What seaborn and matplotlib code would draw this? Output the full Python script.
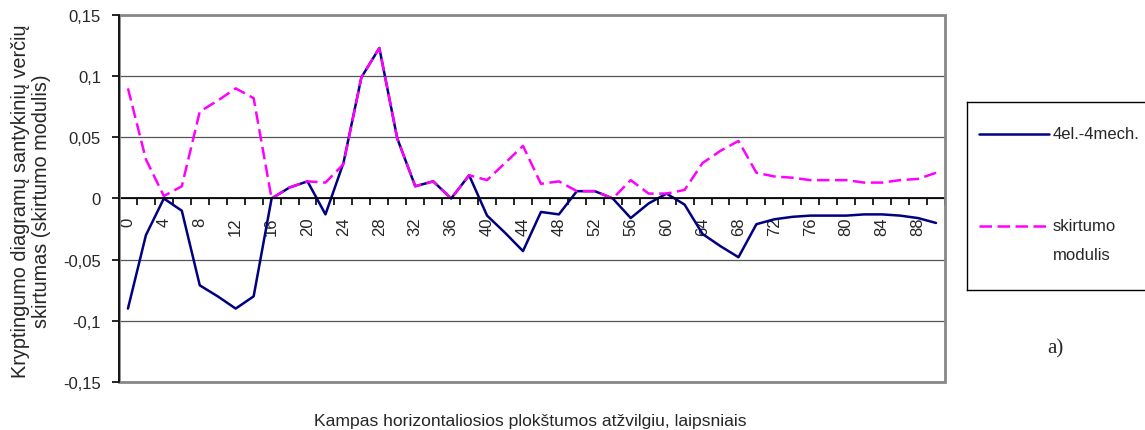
import numpy as np
import pandas as pd
import matplotlib
matplotlib.use("Agg")
import matplotlib.pyplot as plt
import matplotlib.ticker as mticker
from matplotlib.patches import Rectangle
import seaborn as sns

# --- data ---
angles = list(range(0, 92, 2))

el_mech = [-0.090, -0.030, 0.000, -0.010, -0.071, -0.080, -0.090, -0.080,
           0.000, 0.009, 0.014, -0.013, 0.029, 0.099, 0.123, 0.049,
           0.010, 0.014, 0.000, 0.019, -0.014, -0.028, -0.043, -0.011,
           -0.013, 0.006, 0.006, 0.000, -0.016, -0.004, 0.004, -0.005,
           -0.029, -0.039, -0.048, -0.021, -0.017, -0.015, -0.014, -0.014,
           -0.014, -0.013, -0.013, -0.014, -0.016, -0.020]

modulis = [0.090, 0.032, 0.002, 0.010, 0.071, 0.080, 0.090, 0.082,
           0.000, 0.009, 0.014, 0.013, 0.028, 0.099, 0.123, 0.049,
           0.010, 0.014, 0.000, 0.019, 0.015, 0.029, 0.043, 0.012,
           0.014, 0.006, 0.006, 0.000, 0.015, 0.004, 0.004, 0.007,
           0.029, 0.039, 0.047, 0.021, 0.018, 0.017, 0.015, 0.015,
           0.015, 0.013, 0.013, 0.015, 0.016, 0.021]

series_names = ["4el.-4mech.", "skirtumo\nmodulis"]
x_ticks = list(range(0, 90, 4))
y_ticks = [-0.15, -0.1, -0.05, 0, 0.05, 0.1, 0.15]

df = pd.DataFrame({
    "angle": angles * 2,
    "value": el_mech + modulis,
    "series": [series_names[0]] * len(angles) + [series_names[1]] * len(angles),
})

sns.set_theme(style="white")
plt.rcParams["font.family"] = ["Liberation Sans", "DejaVu Sans"]
plt.rcParams["axes.edgecolor"] = "black"
plt.rcParams["xtick.bottom"] = True
plt.rcParams["xtick.minor.bottom"] = True
plt.rcParams["ytick.left"] = True

fig = plt.figure(figsize=(11.45, 4.31), dpi=100)
ax = fig.add_axes([0.1039, 0.1114, 0.7214, 0.8515])

sns.lineplot(data=df, x="angle", y="value", hue="series", style="series",
             palette={series_names[0]: "#000080", series_names[1]: "#FF00FF"},
             dashes={series_names[0]: "", series_names[1]: (5, 2.2)},
             linewidth=1.8, ax=ax, legend=False)
ax.set_xlabel("")
ax.set_ylabel("")

ax.set_xlim(-1, 91)
ax.set_ylim(-0.15, 0.15)

# horizontal gridlines
for yv in y_ticks:
    ax.axhline(yv, color="#555555", linewidth=0.9, zorder=0)

# grey frame, black value axis, category axis sitting on zero
ax.add_patch(Rectangle((0, 0), 1, 1, transform=ax.transAxes, fill=False,
                       edgecolor="#888888", linewidth=2, zorder=5, clip_on=False))
ax.spines["top"].set_visible(False)
ax.spines["right"].set_visible(False)
ax.spines["left"].set_linewidth(1.2)
ax.spines["left"].set_zorder(6)
ax.spines["bottom"].set_position(("data", 0))

# category ticks between points, labels every 4 degrees
ax.set_xticks(x_ticks)
ax.set_xticklabels([str(v) for v in x_ticks], rotation=90, fontsize=12)
ax.set_xticks(np.arange(-1, 92, 2), minor=True)
ax.set_yticks(y_ticks)
ax.yaxis.set_major_formatter(mticker.FuncFormatter(lambda v, p: f"{v:g}".replace(".", ",").replace("-0,", "-0,") if abs(v) > 1e-9 else "0"))
for lab in ax.get_yticklabels():
    lab.set_fontsize(12)
ax.tick_params(axis="y", labelsize=12)

fig.text(0.463, 0.023, "Kampas horizontaliosios plokštumos atžvilgiu, laipsniais",
         ha="center", va="center", fontsize=12.6)
fig.text(0.027, 0.534, "Kryptingumo diagramų santykinių verčių\nskirtumas (skirtumo modulis)",
         ha="center", va="center", rotation=90, fontsize=14.3, linespacing=1.15)

# legend box
lax = fig.add_axes([0.8445, 0.325, 0.17, 0.437])
lax.set_xlim(0, 1)
lax.set_ylim(0, 1)
lax.set_xticks([])
lax.set_yticks([])
for s in lax.spines.values():
    s.set_color("black")
    s.set_linewidth(1)
lax.plot([0.06, 0.42], [0.83, 0.83], color="#000080", linewidth=1.8)
lax.plot([0.06, 0.42], [0.34, 0.34], color="#FF00FF", linewidth=1.8, dashes=(5, 2.2))
lax.text(0.44, 0.83, series_names[0], ha="left", va="center", fontsize=12)
lax.text(0.44, 0.34, "skirtumo", ha="left", va="center", fontsize=12)
lax.text(0.44, 0.19, "modulis", ha="left", va="center", fontsize=12)

fig.text(0.922, 0.19, "a)", ha="center", va="center", fontsize=15,
         family=["Liberation Serif", "DejaVu Serif"])

# tick styling last
ax.tick_params(axis="x", which="major", bottom=True, length=0, pad=13)
ax.tick_params(axis="x", which="minor", bottom=True, length=5, width=1.2,
               color="black", direction="out")
ax.tick_params(axis="y", which="major", length=5, width=1.2, color="black",
               direction="out", left=True, pad=8)

plt.savefig("out.png", dpi=100)
